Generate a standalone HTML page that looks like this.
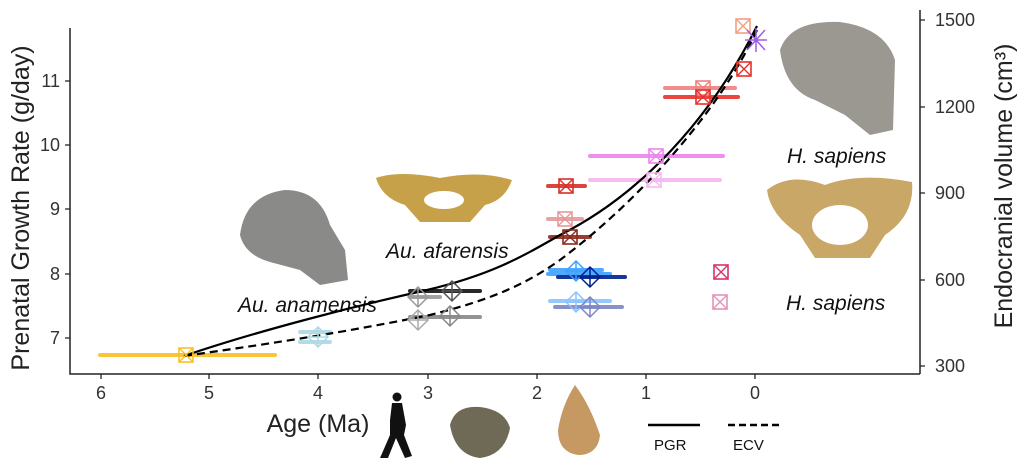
<!DOCTYPE html>
<html><head><style>body{margin:0;background:#fff}svg{display:block}text{font-family:"Liberation Sans",sans-serif}</style></head><body>
<svg width="1024" height="470" viewBox="0 0 1024 470">
<defs>
<g id="sq"><rect x="-7" y="-7" width="14" height="14" fill="none" stroke-width="1.6"/><path d="M-7,-7L7,7M7,-7L-7,7" stroke-width="1.4"/></g>
<g id="dm"><path d="M0,-10L10,0L0,10L-10,0Z M-10,0H10M0,-10V10" fill="none" stroke-width="1.5"/></g>
</defs>
<path d="M70,28V374H920" fill="none" stroke="#222" stroke-width="1.5"/>
<path d="M920,10V374" stroke="#222" stroke-width="1.5"/>
<g stroke="#222" stroke-width="1.3">
<path d="M65,338H70M65,274H70M65,209H70M65,145H70M65,81H70"/>
<path d="M920,366H925M920,280H925M920,193H925M920,107H925M920,20H925"/>
<path d="M101,374V379M209,374V379M318,374V379M428,374V379M537,374V379M646,374V379M755,374V379"/>
</g>
<g font-size="18" fill="#333" text-anchor="end">
<text x="60" y="344">7</text><text x="60" y="280">8</text><text x="60" y="215">9</text><text x="60" y="151">10</text><text x="60" y="87">11</text></g>
<g font-size="18" fill="#333"><text x="935" y="372">300</text><text x="935" y="286">600</text><text x="935" y="199">900</text><text x="935" y="113">1200</text><text x="935" y="26">1500</text></g>
<g font-size="18" fill="#333" text-anchor="middle"><text x="101" y="399">6</text><text x="209" y="399">5</text><text x="318" y="399">4</text><text x="428" y="399">3</text><text x="537" y="399">2</text><text x="646" y="399">1</text><text x="755" y="399">0</text></g>
<text x="318" y="432" font-size="25" fill="#222" text-anchor="middle">Age (Ma)</text>
<text transform="translate(29,208) rotate(-90)" font-size="25" fill="#222" text-anchor="middle">Prenatal Growth Rate (g/day)</text>
<text transform="translate(1012,186) rotate(-90)" font-size="25" fill="#222" text-anchor="middle">Endocranial volume (cm³)</text>
<path d="M240,235 Q245,195 285,190 Q320,190 330,225 L345,250 L348,280 L320,285 L300,270 L270,262 Q245,255 240,235Z" fill="#8a8a88"/>
<path d="M376,178 Q400,170 440,178 Q480,170 512,180 Q505,200 485,205 L470,222 L420,222 L405,205 Q382,198 376,178Z" fill="#c7a04a"/>
<ellipse cx="444" cy="200" rx="20" ry="9" fill="#fff"/>
<path d="M780,50 Q790,20 840,22 Q885,28 895,60 L893,130 L870,135 L845,115 L815,100 Q785,90 780,50Z" fill="#9a9890"/>
<path d="M767,190 Q790,172 825,185 Q860,172 912,182 Q915,215 885,235 L870,258 L815,258 L800,235 Q770,215 767,190Z" fill="#c9a766"/>
<ellipse cx="840" cy="225" rx="28" ry="20" fill="#fff"/>
<circle cx="397" cy="397" r="4.5" fill="#111"/>
<path d="M392,403 L402,403 L406,425 L404,435 L412,456 L405,458 L396,438 L388,458 L380,458 L390,435 L390,420Z" fill="#111"/>
<path d="M450,425 Q455,405 480,407 Q505,410 510,428 Q505,455 480,458 Q455,455 450,425Z" fill="#6f6a55"/>
<path d="M575,385 Q590,405 600,435 Q598,455 578,455 Q558,452 558,430 Q562,405 575,385Z" fill="#c69862"/>
<path d="M648,425H700" stroke="#000" stroke-width="2.5"/>
<path d="M728,425H780" stroke="#000" stroke-width="2.5" stroke-dasharray="7,4"/>
<text x="654" y="450" font-size="15" fill="#111">PGR</text><text x="733" y="450" font-size="15" fill="#111">ECV</text>
<g font-size="21" font-style="italic" fill="#111"><text x="238" y="312">Au. anamensis</text><text x="386" y="258">Au. afarensis</text><text x="787" y="163">H. sapiens</text><text x="786" y="310">H. sapiens</text></g>
<g stroke-width="4" stroke-linecap="round" opacity="0.9">
<path d="M100,355H275" stroke="#fbbf24"/>
<path d="M300,332H330M300,342H330" stroke="#add8e6"/>
<path d="M410,291H480" stroke="#111"/>
<path d="M410,297H440" stroke="#999"/>
<path d="M410,317H480" stroke="#888"/>
<path d="M548,186H585" stroke="#d73027"/>
<path d="M548,219H582" stroke="#e49a9a"/>
<path d="M550,237H590" stroke="#8b2a1f"/>
<path d="M550,270H602M548,274H610" stroke="#3da0ff"/>
<path d="M558,277H625" stroke="#00208f"/>
<path d="M550,301H610" stroke="#89c4ff"/>
<path d="M555,307H622" stroke="#7d86c4"/>
<path d="M590,156H723" stroke="#ee82ee"/>
<path d="M590,180H720" stroke="#f5b8f0"/>
<path d="M665,88H735" stroke="#f08080"/>
<path d="M665,97H738" stroke="#e8312a"/>
</g>
<path d="M184,356 C260,330 360,305 427,290 C490,275 520,258 560,235 C640,195 710,120 757,26" fill="none" stroke="#000" stroke-width="2.2"/>
<path d="M184,356 C260,345 330,335 430,315 C490,300 525,285 560,260 C640,200 720,110 757,30" fill="none" stroke="#000" stroke-width="2.2" stroke-dasharray="8,5"/>
<use href="#sq" x="186" y="355" stroke="#fbbf24"/>
<use href="#dm" x="318" y="337" stroke="#add8e6"/>
<use href="#dm" x="418" y="297" stroke="#999"/><use href="#dm" x="452" y="291" stroke="#555"/>
<use href="#dm" x="418" y="320" stroke="#aaa"/><use href="#dm" x="450" y="316" stroke="#888"/>
<use href="#sq" x="566" y="186" stroke="#d73027"/>
<use href="#sq" x="565" y="219" stroke="#e49a9a"/>
<use href="#sq" x="570" y="237" stroke="#8b2a1f"/>
<use href="#dm" x="576" y="271" stroke="#3da0ff"/><use href="#dm" x="590" y="277" stroke="#00208f"/>
<use href="#dm" x="576" y="302" stroke="#89c4ff"/><use href="#dm" x="590" y="307" stroke="#7d86c4"/>
<use href="#sq" x="656" y="156" stroke="#ee82ee"/><use href="#sq" x="654" y="180" stroke="#f5b8f0"/>
<use href="#sq" x="703" y="88" stroke="#f08080"/><use href="#sq" x="703" y="97" stroke="#e8312a"/>
<use href="#sq" x="721" y="272" stroke="#d6336c"/><use href="#sq" x="720" y="302" stroke="#e890b8"/>
<use href="#sq" x="744" y="69" stroke="#e8312a"/><use href="#sq" x="743" y="26" stroke="#f0a080"/>
<path d="M747,30L765,50M765,30L747,50M756,28V52M745,40H767" stroke="#9b5de5" stroke-width="1.5"/>
</svg></body></html>
